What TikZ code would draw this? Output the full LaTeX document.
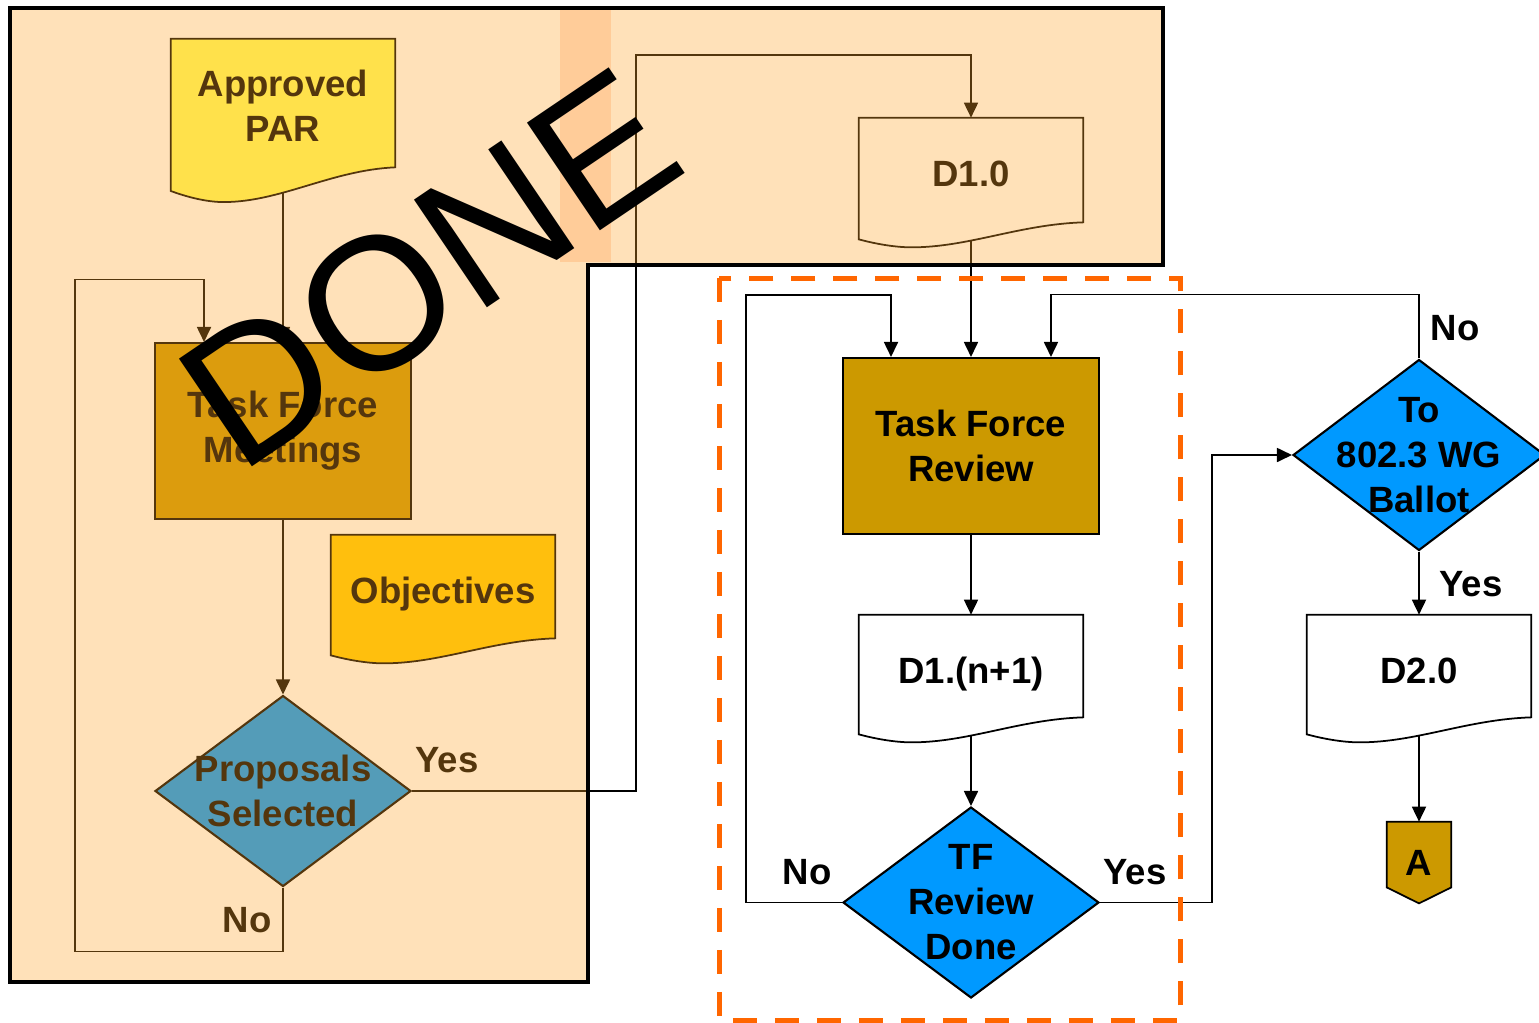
\documentclass[tikz,border=0pt]{standalone}
\usepackage{fontspec}
\setmainfont{Liberation Sans}
\usetikzlibrary{arrows.meta, shapes.geometric}

\definecolor{taskgold}{HTML}{CC9900}
\definecolor{decblue}{HTML}{0099FF}
\definecolor{paryellow}{HTML}{FFFF5C}
\definecolor{objorange}{HTML}{FFCC00}
\definecolor{doneshade}{HTML}{FFA52A}
\definecolor{donestrip}{HTML}{FFCC99}
\definecolor{tfdash}{HTML}{FF6600}

\pgfdeclarelayer{docs}
\pgfsetlayers{docs,main}

\tikzset{
  lbl/.style={font=\bfseries\fontsize{20.8}{25.6}\selectfont, align=center},
  procbox/.style={lbl, draw, line width=1.2pt, minimum width=5.12cm, minimum height=3.52cm},
  decision/.style={lbl, diamond, draw, line width=1.2pt, inner sep=-0.6cm, minimum width=5.12cm, minimum height=3.82cm},
  docbox/.style={lbl, inner sep=0pt, minimum width=4.48cm, text height=1.36cm},
  flow/.style={line width=1pt, -{Triangle[length=0.3cm, width=0.28cm]}},
}

% document symbol with a wavy bottom, drawn from the node anchors
\newcommand{\docoutline}[3]{%
  \draw[line width=1pt, fill=#2] (#1.north west) -- (#1.north east)
    -- ([yshift=#3*0.36cm]#1.south east)
    .. controls ([xshift=-1.28cm, yshift=#3*0.32cm]#1.south east) and ([xshift=2.2cm, yshift=-#3*0.14cm]#1.south west)
    .. ([xshift=1.06cm, yshift=-#3*0.14cm]#1.south west)
    .. controls ([xshift=0.7cm, yshift=-#3*0.14cm]#1.south west) and ([xshift=0.3cm, yshift=-#3*0.06cm]#1.south west)
    .. ([yshift=#3*0.02cm]#1.south west) -- cycle;}

\begin{document}
\begin{tikzpicture}[x=0.02cm, y=-0.02cm]
  \useasboundingbox (0,0) rectangle (1539,1022);

  % first stage (done)
  \node[docbox, text height=2.04cm, text depth=1.02cm] (par) at (283,115.5) {Approved\\PAR};
  \node[procbox, fill=taskgold] (tfm) at (283,431) {Task Force\\Meetings};
  \node[docbox, text depth=1.06cm] (obj) at (443,595.5) {Objectives};
  \node[decision, fill=decblue] (props) at (283,791) {Proposals\\Selected};
  \node[lbl] (propsyes) at (447,760) {Yes};
  \node[lbl] (propsno) at (247,920) {No};
  \node[docbox, text depth=1.08cm] (d10) at (971,179) {D1.0};

  % task force review
  \node[procbox, fill=taskgold] (tfr) at (971,446) {Task Force\\Review};
  \node[docbox, text depth=1.04cm] (d1n) at (971,675) {D1.(n+1)};
  \node[decision, fill=decblue] (tfdone) at (971,902.5) {TF\\Review\\Done};
  \node[lbl] (tfdoneno) at (807,872) {No};
  \node[lbl] (tfdoneyes) at (1135,872) {Yes};

  % working group ballot
  \node[decision, fill=decblue, minimum width=5.04cm] (ballot) at (1419,455) {To\\802.3 WG\\Ballot};
  \node[lbl] (ballotno) at (1455,328) {No};
  \node[lbl] (ballotyes) at (1471,584) {Yes};
  \node[docbox, text depth=1.04cm] (d20) at (1419,675) {D2.0};
  \node[lbl, minimum width=1.28cm, minimum height=1.62cm] (offa) at (1419,862.5) {A};

  \begin{pgfonlayer}{docs}
    \docoutline{par}{paryellow}{1.39}
    \docoutline{obj}{objorange}{1}
    \docoutline{d10}{white}{1}
    \docoutline{d1n}{white}{1}
    \docoutline{d20}{white}{1}
    \draw[line width=1pt, fill=taskgold] (offa.north west) -- (offa.north east) -- ([yshift=0.32cm]offa.south east)
      -- (offa.south) -- ([yshift=0.32cm]offa.south west) -- cycle;
  \end{pgfonlayer}

  \draw[flow] (par.south) -- (tfm.north);
  \draw[flow] (tfm.south) -- (props.north);
  \draw[flow] (props.south) -- ++(0,64) -- ++(-208,0) -- ++(0,-672) -| ([xshift=-1.58cm]tfm.north);
  \draw[flow] (props.east) -- ++(224,0) -- ++(0,-736) -| (d10.north);
  \draw[flow] (d10.south) -- (tfr.north);
  \draw[flow] (tfr.south) -- (d1n.north);
  \draw[flow] (d1n.south) -- (tfdone.north);
  \draw[flow] (tfdone.west) -- ++(-96,0) -- ++(0,-607.5) -| ([xshift=-1.6cm]tfr.north);
  \draw[flow] (tfdone.east) -- ++(112,0) |- (ballot.west);
  \draw[flow] (ballot.north) -- ++(0,-64) -| ([xshift=1.6cm]tfr.north);
  \draw[flow] (ballot.south) -- (d20.north);
  \draw[flow] (d20.south) -- (offa.north);

  \draw[tfdash, line width=0.1cm, dash pattern=on 0.48cm off 0.36cm] (719,278) rectangle (1180,1020);

  % DONE overlay
  \fill[doneshade, opacity=0.33] (10,8) -- (1163,8) -- (1163,265) -- (588,265) -- (588,982) -- (10,982) -- cycle;
  \fill[donestrip] (560,10) rectangle (611,262);
  \node[rotate=34.1, anchor=base west, inner sep=0pt, font=\fontsize{107.6}{110}\selectfont] (done) at (239.5,475.4) {DONE};
  \draw[line width=0.08cm] (10,8) -- (1163,8) -- (1163,265) -- (588,265) -- (588,982) -- (10,982) -- cycle;
\end{tikzpicture}
\end{document}
